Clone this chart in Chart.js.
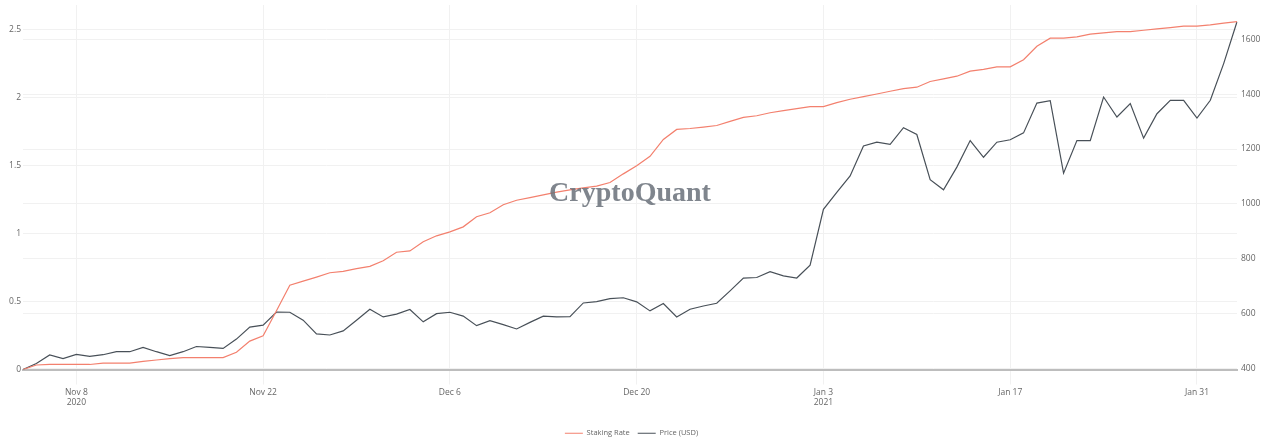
<!DOCTYPE html>
<html>
<head>
<meta charset="utf-8">
<script src="https://cdn.jsdelivr.net/npm/chart.js@4.4.1/dist/chart.umd.min.js"></script>
<style>
  html, body { margin: 0; padding: 0; background: #fff; overflow: hidden; }
  #wrap { width: 1263px; height: 447px; position: relative; }
</style>
</head>
<body>
<div id="wrap"><canvas id="chart"></canvas></div>
<script>
// daily dates, Nov 4 2020 - Feb 3 2021
const dates = [
  '2020-11-04','2020-11-05','2020-11-06','2020-11-07','2020-11-08','2020-11-09','2020-11-10','2020-11-11','2020-11-12','2020-11-13',
  '2020-11-14','2020-11-15','2020-11-16','2020-11-17','2020-11-18','2020-11-19','2020-11-20','2020-11-21','2020-11-22','2020-11-23',
  '2020-11-24','2020-11-25','2020-11-26','2020-11-27','2020-11-28','2020-11-29','2020-11-30',
  '2020-12-01','2020-12-02','2020-12-03','2020-12-04','2020-12-05','2020-12-06','2020-12-07','2020-12-08','2020-12-09','2020-12-10',
  '2020-12-11','2020-12-12','2020-12-13','2020-12-14','2020-12-15','2020-12-16','2020-12-17','2020-12-18','2020-12-19','2020-12-20',
  '2020-12-21','2020-12-22','2020-12-23','2020-12-24','2020-12-25','2020-12-26','2020-12-27','2020-12-28','2020-12-29','2020-12-30','2020-12-31',
  '2021-01-01','2021-01-02','2021-01-03','2021-01-04','2021-01-05','2021-01-06','2021-01-07','2021-01-08','2021-01-09','2021-01-10',
  '2021-01-11','2021-01-12','2021-01-13','2021-01-14','2021-01-15','2021-01-16','2021-01-17','2021-01-18','2021-01-19','2021-01-20',
  '2021-01-21','2021-01-22','2021-01-23','2021-01-24','2021-01-25','2021-01-26','2021-01-27','2021-01-28','2021-01-29','2021-01-30','2021-01-31',
  '2021-02-01','2021-02-02','2021-02-03'
];

const stakingRate = [
  0, 0.033, 0.037, 0.037, 0.037, 0.037, 0.047, 0.047, 0.047, 0.06,
  0.07, 0.08, 0.087, 0.087, 0.087, 0.087, 0.127, 0.209, 0.248, 0.433,
  0.62, 0.65, 0.68, 0.712, 0.722, 0.742, 0.759,
  0.80, 0.863, 0.873, 0.94, 0.984, 1.013, 1.05, 1.124, 1.154, 1.213,
  1.246, 1.265, 1.285, 1.305, 1.322, 1.337, 1.35, 1.376, 1.44, 1.50,
  1.569, 1.693, 1.767, 1.774, 1.784, 1.796, 1.826, 1.856, 1.868, 1.89, 1.905,
  1.92, 1.935, 1.935, 1.964, 1.989, 2.009, 2.028, 2.048, 2.068, 2.078,
  2.12, 2.139, 2.159, 2.196, 2.209, 2.228, 2.228, 2.28, 2.379, 2.439,
  2.439, 2.448, 2.468, 2.478, 2.487, 2.487, 2.497, 2.507, 2.517, 2.527, 2.527,
  2.537, 2.55, 2.56
];

const priceUsd = [
  395, 417, 448, 435, 450, 443, 449, 460, 460, 476,
  460, 446, 460, 479, 476, 472, 506, 550, 557, 605,
  604, 575, 525, 521, 536, 575, 615,
  587, 597, 614, 569, 599, 604, 590, 555, 573, 559,
  543, 567, 590, 587, 588, 638, 643, 654, 657, 642,
  609, 636, 587, 615, 627, 637, 682, 729, 731, 752, 737,
  729, 776, 980, 1042, 1102, 1211, 1225, 1217, 1278, 1253,
  1088, 1051, 1134, 1231, 1170, 1225, 1234, 1259, 1368, 1377,
  1112, 1231, 1231, 1390, 1317, 1366, 1240, 1329, 1378, 1378, 1313,
  1378, 1512, 1665
];

const tickDates = ['2020-11-08', '2020-11-22', '2020-12-06', '2020-12-20', '2021-01-03', '2021-01-17', '2021-01-31'];
const tickText = [['Nov 8', '2020'], 'Nov 22', 'Dec 6', 'Dec 20', ['Jan 3', '2021'], 'Jan 17', 'Jan 31'];

const FONT = '"Open Sans", "Noto Sans", sans-serif';
const RED = 'rgb(243, 128, 110)';
const DARK = 'rgb(72, 80, 88)';
const GRID = '#f1f1f1';

// CryptoQuant watermark over the lines
const watermark = {
  id: 'watermark',
  afterDatasetsDraw(chart) {
    const ctx = chart.ctx;
    ctx.save();
    ctx.font = 'bold 28px "Liberation Serif", "DejaVu Serif", serif';
    ctx.fillStyle = 'rgba(104, 112, 121, 0.85)';
    ctx.textAlign = 'center';
    ctx.textBaseline = 'alphabetic';
    ctx.fillText('CryptoQuant', 630, 201);
    ctx.restore();
  }
};

// keep the y axes from pushing the plot area down
function fixY(width) {
  return function (scale) {
    scale.width = width;
    scale.paddingTop = 0;
    scale.paddingBottom = 0;
  };
}

new Chart(document.getElementById('chart'), {
  type: 'line',
  data: {
    labels: dates,
    datasets: [
      {
        label: 'Staking Rate',
        data: stakingRate,
        borderColor: RED,
        backgroundColor: RED,
        borderWidth: 1.2,
        pointRadius: 0,
        tension: 0,
        yAxisID: 'y'
      },
      {
        label: 'Price (USD)',
        data: priceUsd,
        borderColor: DARK,
        backgroundColor: DARK,
        borderWidth: 1.2,
        pointRadius: 0,
        tension: 0,
        yAxisID: 'y1'
      }
    ]
  },
  options: {
    responsive: true,
    maintainAspectRatio: false,
    animation: false,
    layout: { padding: { top: 5, left: 0, right: 0, bottom: 0 } },
    plugins: {
      tooltip: { enabled: false },
      legend: {
        position: 'bottom',
        labels: {
          usePointStyle: true,
          pointStyle: 'line',
          pointStyleWidth: 18,
          padding: 8,
          color: '#666',
          font: { family: FONT, size: 7.5 }
        }
      }
    },
    scales: {
      x: {
        type: 'category',
        offset: false,
        grid: { color: GRID, tickColor: GRID, tickLength: 15 },
        border: { display: true, color: '#bdbdbd', width: 2 },
        ticks: {
          autoSkip: false,
          maxRotation: 0,
          padding: 3,
          color: '#666',
          font: { family: FONT, size: 8.5 },
          callback: function (value, index) {
            const k = tickDates.indexOf(dates[index]);
            return k >= 0 ? tickText[k] : null;
          }
        },
        afterFit: function (scale) { scale.height = 52; }
      },
      y: {
        position: 'left',
        min: 0,
        max: 2.683,
        grid: { color: GRID, drawTicks: false },
        border: { display: false },
        ticks: {
          stepSize: 0.5,
          includeBounds: false,
          padding: 2,
          color: '#666',
          font: { family: FONT, size: 8.5 },
          callback: function (value) { return String(value); }
        },
        afterFit: fixY(23)
      },
      y1: {
        position: 'right',
        min: 395,
        max: 1726,
        grid: { color: GRID, drawTicks: false },
        border: { display: false },
        ticks: {
          stepSize: 200,
          includeBounds: false,
          padding: 4,
          color: '#666',
          font: { family: FONT, size: 8.5 },
          callback: function (value) { return String(value); }
        },
        afterFit: fixY(26)
      }
    }
  },
  plugins: [watermark]
});
</script>
</body>
</html>
